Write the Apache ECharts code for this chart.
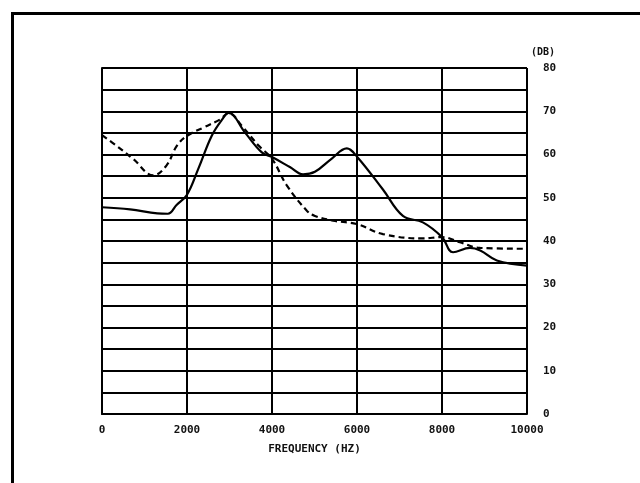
<!DOCTYPE html>
<html>
<head>
<meta charset="utf-8">
<script src="https://cdn.jsdelivr.net/npm/echarts@6/dist/echarts.min.js"></script>
<style>
html,body{margin:0;padding:0;background:#fff;}
#chart{width:640px;height:483px;}
</style>
</head>
<body>
<div id="chart"></div>
<script>
// Data
var solidFreq = [0, 660, 1300, 1550, 1760, 2000, 2270, 2580, 2820, 2980, 3370, 3760, 4000, 4420, 4730, 5010, 5400, 5760, 6000, 6610, 7080, 7550, 8000, 8260, 8660, 8900, 9290, 10000];
var solidDb   = [47.8, 47.3, 46.4, 46.3, 48.4, 50.7, 56.8, 64.3, 68, 69.6, 65, 60.5, 59.4, 57.1, 55.4, 56, 59, 61.4, 59.5, 51.9, 45.8, 44.3, 40.9, 37.4, 38.4, 37.8, 35.5, 34.3];
var dashFreq  = [0, 345, 730, 1210, 1520, 1760, 2000, 2380, 2780, 2980, 3290, 3690, 4000, 4340, 4820, 5010, 5440, 6000, 6610, 7550, 8000, 8420, 8900, 10000];
var dashDb    = [64.5, 62, 59, 55.2, 57.5, 62, 64.3, 66.2, 68.1, 69.6, 66.6, 62, 59, 53, 47, 45.8, 44.7, 43.9, 41.6, 40.6, 40.9, 39.7, 38.4, 38.2];
var xTicks = [0, 2000, 4000, 6000, 8000, 10000];
var yLabels = [0, 10, 20, 30, 40, 50, 60, 70, 80];
var xTitle = 'FREQUENCY (HZ)';
var yTitle = '(DB)';

function pairs(xs, ys){ return xs.map(function(x,i){ return [x, ys[i]]; }); }

var font = 'DejaVu Sans Mono';
var chart = echarts.init(document.getElementById('chart'), null, {renderer:'canvas'});
chart.setOption({
  animation: false,
  backgroundColor: '#fff',
  graphic: [{
    type: 'rect',
    shape: {x: 12.5, y: 13.5, width: 700, height: 600},
    style: {fill: 'none', stroke: '#000', lineWidth: 3}
  }, {
    type: 'text', left: 531, top: 47,
    style: {text: yTitle, font: 'bold 10px "DejaVu Sans Mono"', fill: '#111'}
  }],
  grid: {left: 102, right: 113, top: 68, bottom: 69},
  xAxis: {
    type: 'value', min: xTicks[0], max: xTicks[xTicks.length-1], interval: 2000,
    name: xTitle, nameLocation: 'middle', nameGap: 30,
    nameTextStyle: {fontFamily: font, fontSize: 11, fontWeight: 'bold', color: '#111'},
    axisLine: {show: true, lineStyle: {color: '#000', width: 2}},
    axisTick: {show: false},
    axisLabel: {fontFamily: font, fontSize: 11, fontWeight: 'bold', color: '#111', margin: 11,
      formatter: function(v){ return xTicks.indexOf(v) >= 0 ? String(v) : ''; }},
    splitLine: {show: true, lineStyle: {color: '#000', width: 2}}
  },
  yAxis: {
    type: 'value', position: 'right', min: 0, max: 80, interval: 5,
    axisLine: {show: true, lineStyle: {color: '#000', width: 2}},
    axisTick: {show: false},
    axisLabel: {fontFamily: font, fontSize: 11, fontWeight: 'bold', color: '#111', margin: 16,
      formatter: function(v){ return yLabels.indexOf(v) >= 0 ? String(v) : ''; }},
    splitLine: {show: true, lineStyle: {color: '#000', width: 2}}
  },
  series: [{
    type: 'line', data: pairs(solidFreq, solidDb), smooth: 0.4, symbol: 'none',
    lineStyle: {color: '#000', width: 2.2}
  }, {
    type: 'line', data: pairs(dashFreq, dashDb), smooth: 0.4, symbol: 'none',
    lineStyle: {color: '#000', width: 2.2, type: [6, 4]}
  }]
});
</script>
</body>
</html>
